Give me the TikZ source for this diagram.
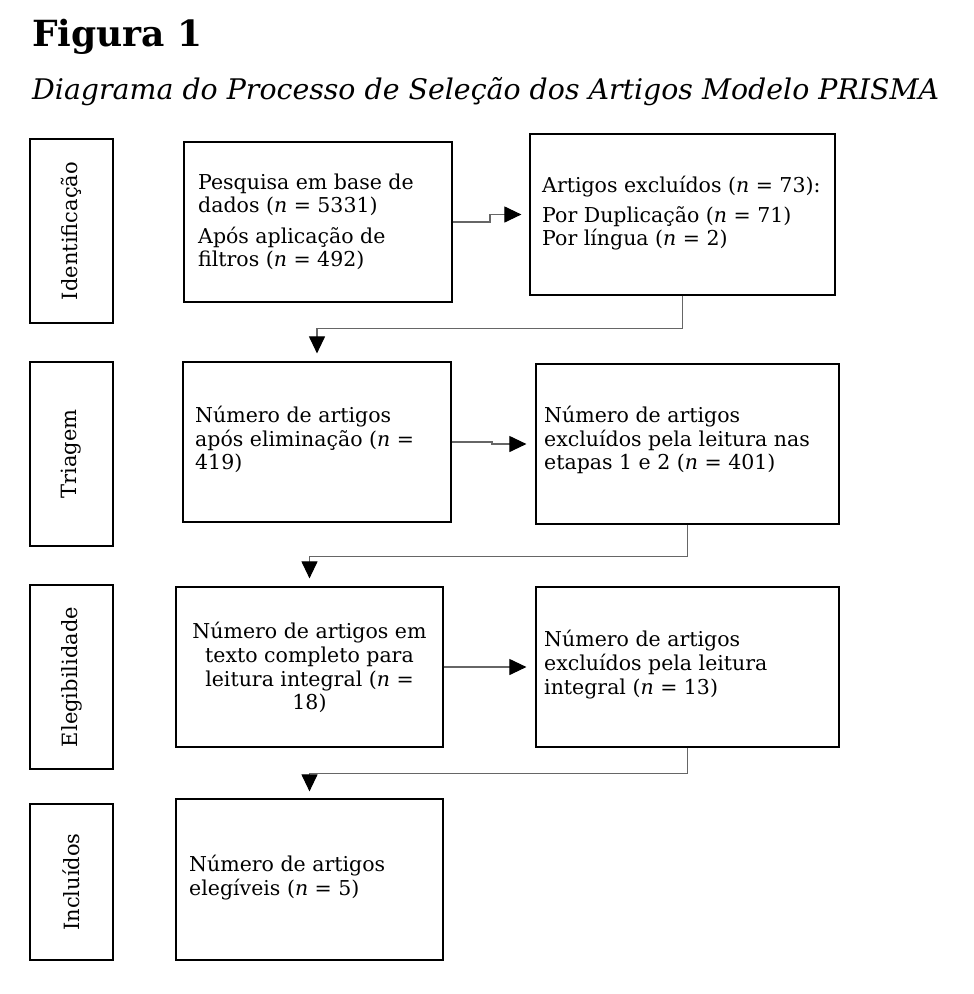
\documentclass[tikz,border=0pt]{standalone}
\usepackage{fontspec}
\setmainfont{DejaVu Serif}
\usetikzlibrary{arrows.meta}
\begin{document}
\begin{tikzpicture}[x=1pt,y=-1pt,
  box/.style={draw=black, line width=1.2pt, inner sep=0pt, rectangle},
  txt/.style={anchor=base west, inner sep=0pt, font=\fontsize{20.5}{22}\selectfont},
  ctxt/.style={anchor=base, inner sep=0pt, font=\fontsize{20.5}{22}\selectfont},
  vlab/.style={rotate=90, inner sep=0pt, font=\fontsize{21}{22}\selectfont},
  conn/.style={draw=black!60, line width=1.1pt, -{Triangle[length=17pt,width=16pt,color=black]}},
]
\useasboundingbox[fill=white] (0,0) rectangle (974,994);

\node[anchor=base west, inner sep=0pt, font=\bfseries\fontsize{36}{40}\selectfont] (title) at (32,46) {Figura 1};
\node[anchor=base west, inner sep=0pt, font=\itshape\fontsize{28.4}{30}\selectfont] (sub) at (32,99) {Diagrama do Processo de Seleção dos Artigos Modelo PRISMA};

% left stage boxes
\node[box, minimum width=83pt, minimum height=184pt] (l1) at (71.5,231) {};
\node[box, minimum width=83pt, minimum height=184pt] (l2) at (71.5,454) {};
\node[box, minimum width=83pt, minimum height=184pt] (l3) at (71.5,677) {};
\node[box, minimum width=83pt, minimum height=156pt] (l4) at (71.5,882) {};
\node[vlab] (l1t) at (l1.center) {Identificação};
\node[vlab] (l2t) at (l2.center) {Triagem};
\node[vlab] (l3t) at (l3.center) {Elegibilidade};
\node[vlab] (l4t) at (l4.center) {Incluídos};

% middle boxes
\node[box, minimum width=268pt, minimum height=160pt] (b1) at (318,222) {};
\node[box, minimum width=268pt, minimum height=160pt] (b2) at (317,442) {};
\node[box, minimum width=267pt, minimum height=160pt] (b3) at (309.5,667) {};
\node[box, minimum width=267pt, minimum height=161pt] (b4) at (309.5,879.5) {};

% right boxes
\node[box, minimum width=305pt, minimum height=161pt] (r1) at (682.5,214.5) {};
\node[box, minimum width=303pt, minimum height=160pt] (r2) at (687.5,444) {};
\node[box, minimum width=303pt, minimum height=160pt] (r3) at (687.5,667) {};

% texts
\node[txt] (b1a) at (198,189) {Pesquisa em base de};
\node[txt] (b1b) at (198,212) {dados (\textit{n} = 5331)};
\node[txt] (b1c) at (198,243) {Após aplicação de};
\node[txt] (b1d) at (198,266) {filtros (\textit{n} = 492)};

\node[txt] (r1a) at (542,192) {Artigos excluídos (\textit{n} = 73):};
\node[txt] (r1b) at (542,222) {Por Duplicação (\textit{n} = 71)};
\node[txt] (r1c) at (542,245) {Por língua (\textit{n} = 2)};

\node[txt] (b2a) at (195,422) {Número de artigos};
\node[txt] (b2b) at (195,446) {após eliminação (\textit{n} =};
\node[txt] (b2c) at (195,469) {419)};

\node[txt] (r2a) at (544,422) {Número de artigos};
\node[txt] (r2b) at (544,446) {excluídos pela leitura nas};
\node[txt] (r2c) at (544,469) {etapas 1 e 2 (\textit{n} = 401)};

\node[ctxt] (b3a) at (309.5,638) {Número de artigos em};
\node[ctxt] (b3b) at (309.5,662) {texto completo para};
\node[ctxt] (b3c) at (309.5,686) {leitura integral (\textit{n} =};
\node[ctxt] (b3d) at (309.5,709) {18)};

\node[txt] (r3a) at (544,646) {Número de artigos};
\node[txt] (r3b) at (544,670) {excluídos pela leitura};
\node[txt] (r3c) at (544,694) {integral (\textit{n} = 13)};

\node[txt] (b4a) at (189,871) {Número de artigos};
\node[txt] (b4b) at (189,895) {elegíveis (\textit{n} = 5)};

% connectors
\draw[conn, shorten >=8pt] (b1.east) -- (490,222) -- (490,214.5) -- (r1.west);
\draw[conn, shorten >=8pt] (r1.south) -- ++(0,33) -| (b2.north);
\draw[conn, shorten >=9pt] (b2.east) -- (492,442) -- (492,444) -- (r2.west);
\draw[conn, shorten >=8pt] (r2.south) -- ++(0,32) -| (b3.north);
\draw[conn, shorten >=9pt] (b3.east) -- (r3.west);
\draw[conn, shorten >=7pt] (r3.south) -- ++(0,26) -| (b4.north);
\end{tikzpicture}
\end{document}
